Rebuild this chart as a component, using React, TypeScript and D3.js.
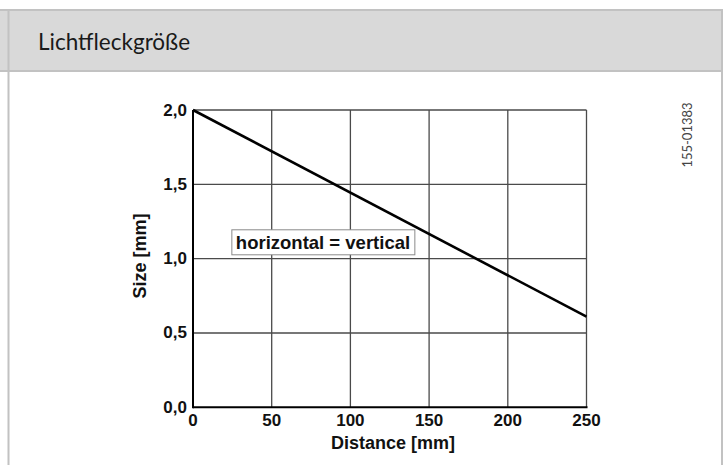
import React from "react";
import * as d3 from "d3";

// chart data
const distances = [0, 250];
const sizes = [2.0, 0.61];
const xTicks = [0, 50, 100, 150, 200, 250];
const yTicks = [0, 0.5, 1.0, 1.5, 2.0];
const title = "Lichtfleckgröße";
const docNumber = "155-01383";
const noteText = "horizontal = vertical";

const W = 727;
const H = 465;
const border = "#c2c2c2";
const boldFont = "'Liberation Sans', Arial, sans-serif";

export default function App() {
  const x = d3.scaleLinear().domain([0, 250]).range([193, 586.5]);
  const y = d3.scaleLinear().domain([0, 2]).range([407.3, 110]);
  const fmt = (v: number) => d3.format(".1f")(v).replace(".", ",");

  const points = distances.map((d, i) => [d, sizes[i]] as [number, number]);
  const line = d3
    .line<[number, number]>()
    .x((d) => x(d[0]))
    .y((d) => y(d[1]));

  const noteX = x(25);
  const noteY = y(1.11);

  return (
    <svg
      width={W}
      height={H}
      style={{ position: "absolute", left: 0, top: 0, background: "#fff" }}
    >
      {/* header band */}
      <rect x={0} y={10} width={722} height={61} fill="#d9d9d9" />
      <line x1={0} x2={723} y1={10} y2={10} stroke={border} strokeWidth={2} />
      <line x1={0} x2={723} y1={71} y2={71} stroke={border} strokeWidth={2} />
      <line x1={8.5} x2={8.5} y1={10} y2={H} stroke={border} strokeWidth={2} />
      <line x1={722} x2={722} y1={10} y2={H} stroke={border} strokeWidth={2} />
      <text
        x={38}
        y={50}
        fontFamily="Lato, 'Open Sans', sans-serif"
        fontSize={22.5}
        fill="#1a1a1a"
      >
        {title}
      </text>

      {/* grid */}
      {xTicks.slice(1).map((t) => (
        <line
          key={"gx" + t}
          x1={x(t)}
          x2={x(t)}
          y1={y(0)}
          y2={y(2)}
          stroke="#4a4a4a"
          strokeWidth={1.3}
        />
      ))}
      {yTicks.slice(1).map((t) => (
        <line
          key={"gy" + t}
          x1={x(0)}
          x2={x(250)}
          y1={y(t)}
          y2={y(t)}
          stroke="#4a4a4a"
          strokeWidth={1.3}
        />
      ))}
      {/* axes */}
      <line x1={x(0)} x2={x(0)} y1={y(0) + 1} y2={y(2)} stroke="#000" strokeWidth={2} />
      <line x1={x(0)} x2={x(250) + 1} y1={y(0)} y2={y(0)} stroke="#000" strokeWidth={2} />

      {/* data line */}
      <path d={line(points) || ""} fill="none" stroke="#000" strokeWidth={2.6} />

      {/* tick labels */}
      {yTicks.map((t) => (
        <text
          key={"ly" + t}
          x={187}
          y={y(t)}
          textAnchor="end"
          dominantBaseline="central"
          fontFamily={boldFont}
          fontWeight="bold"
          fontSize={17}
          fill="#111"
        >
          {fmt(t)}
        </text>
      ))}
      {xTicks.map((t) => (
        <text
          key={"lx" + t}
          x={x(t)}
          y={420}
          textAnchor="middle"
          dominantBaseline="central"
          fontFamily={boldFont}
          fontWeight="bold"
          fontSize={17}
          fill="#111"
        >
          {t}
        </text>
      ))}

      {/* axis titles */}
      <text
        x={393}
        y={449}
        textAnchor="middle"
        fontFamily={boldFont}
        fontWeight="bold"
        fontSize={18}
        fill="#111"
      >
        Distance [mm]
      </text>
      <text
        transform="translate(140,256) rotate(-90)"
        textAnchor="middle"
        dominantBaseline="central"
        fontFamily={boldFont}
        fontWeight="bold"
        fontSize={18}
        fill="#111"
      >
        Size [mm]
      </text>

      {/* annotation box */}
      <rect
        x={noteX - 0.5}
        y={noteY - 12.5}
        width={183}
        height={25}
        fill="#fff"
        stroke="#8a8a8a"
        strokeWidth={1}
      />
      <text
        x={noteX + 3.5}
        y={noteY + 6.5}
        fontFamily={boldFont}
        fontWeight="bold"
        fontSize={18.5}
        fill="#111"
      >
        {noteText}
      </text>

      {/* document number */}
      <text
        transform="translate(687,135) rotate(-90)"
        textAnchor="middle"
        dominantBaseline="central"
        fontFamily="Lato, 'Open Sans', sans-serif"
        fontSize={13}
        fill="#444"
      >
        {docNumber}
      </text>
    </svg>
  );
}
